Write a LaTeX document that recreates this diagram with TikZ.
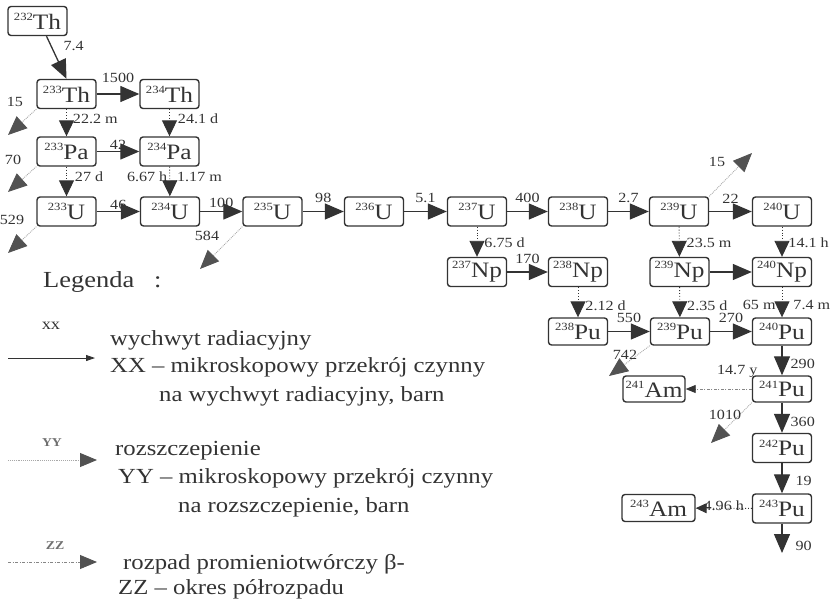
\documentclass[tikz,border=0pt]{standalone}
\usepackage{fontspec}
\setmainfont{Liberation Serif}[FakeStretch=1.15]
\usetikzlibrary{arrows.meta,calc}
\definecolor{ink}{HTML}{333333}
\definecolor{fisc}{HTML}{A8A8A8}
\newcommand{\nuc}[2]{\raisebox{0.4em}{\fontsize{11}{11}\selectfont #1}#2}
\begin{document}
\begin{tikzpicture}[x=1pt,y=-1pt,
  iso/.style={draw=ink, line width=1.4pt, rounded corners=3pt, minimum width=59pt,
    minimum height=29pt, inner sep=0pt, font=\fontsize{22}{22}\selectfont, text=ink},
  capt/.style={draw=ink, line width=1.3pt, -{Triangle[length=19pt,width=16pt]}},
  dec/.style={draw=ink, line width=0.9pt, dotted, -{Triangle[length=16pt,width=15pt]}},
  fis/.style={draw=fisc, line width=0.9pt, densely dotted, -{Triangle[length=19pt,width=16pt,color=ink!85]}},
  lab/.style={font=\fontsize{14}{14}\selectfont, text=ink, inner sep=1pt},
  leg/.style={font=\fontsize{21.5}{24}\selectfont, text=ink, inner sep=0pt, anchor=base west},
]
\useasboundingbox (0,0) rectangle (833,606);

% ---- nodes
\node[iso] (th232) at (37.5,21) {\nuc{232}{Th}};
\node[iso] (th233) at (66.5,94) {\nuc{233}{Th}};
\node[iso] (th234) at (169.5,94) {\nuc{234}{Th}};
\node[iso] (pa233) at (66.5,151.5) {\nuc{233}{Pa}};
\node[iso] (pa234) at (169.5,151.5) {\nuc{234}{Pa}};
\node[iso] (u233) at (66.5,211.5) {\nuc{233}{U}};
\node[iso] (u234) at (170,211.5) {\nuc{234}{U}};
\node[iso] (u235) at (272.5,211.5) {\nuc{235}{U}};
\node[iso] (u236) at (374,211.5) {\nuc{236}{U}};
\node[iso] (u237) at (477,211.5) {\nuc{237}{U}};
\node[iso] (u238) at (578,211.5) {\nuc{238}{U}};
\node[iso] (u239) at (679,211.5) {\nuc{239}{U}};
\node[iso] (u240) at (782,211.5) {\nuc{240}{U}};
\node[iso] (np237) at (477,272) {\nuc{237}{Np}};
\node[iso] (np238) at (578,272) {\nuc{238}{Np}};
\node[iso] (np239) at (679.5,272) {\nuc{239}{Np}};
\node[iso] (np240) at (782,272) {\nuc{240}{Np}};
\node[iso, minimum height=27pt] (pu238) at (578,331.5) {\nuc{238}{Pu}};
\node[iso, minimum height=27pt] (pu239) at (680,331.5) {\nuc{239}{Pu}};
\node[iso, minimum height=27pt] (pu240) at (782,331.5) {\nuc{240}{Pu}};
\node[iso, minimum height=26pt, minimum width=62pt] (am241) at (654,389) {\nuc{241}{Am}};
\node[iso, minimum height=26pt] (pu241) at (782,389) {\nuc{241}{Pu}};
\node[iso] (pu242) at (782,448) {\nuc{242}{Pu}};
\node[iso] (pu243) at (782,508.5) {\nuc{243}{Pu}};
\node[iso, minimum height=27pt, minimum width=73pt] (am243) at (658.5,508) {\nuc{243}{Am}};

% ---- capture (solid)
\draw[capt] ([xshift=9pt]th232.south) -- (th233.north) node[lab, pos=0.22, anchor=west, xshift=11pt] {7.4};
\draw[capt] (th233) -- (th234) node[lab, midway, above=10pt] {1500};
\draw[capt] (pa233) -- (pa234) node[lab, midway, above=0pt] {42};
\draw[capt] (u233) -- (u234) node[lab, midway, above=0pt] {46};
\draw[capt] (u234) -- (u235) node[lab, midway, above=2pt] {100};
\draw[capt] (u235) -- (u236) node[lab, midway, above=7pt] {98};
\draw[capt] (u236) -- (u237) node[lab, midway, above=7pt] {5.1};
\draw[capt] (u237) -- (u238) node[lab, midway, above=7pt] {400};
\draw[capt] (u238) -- (u239) node[lab, midway, above=7pt] {2.7};
\draw[capt] (u239) -- (u240) node[lab, midway, above=6pt] {22};
\draw[capt] (np237) -- (np238) node[lab, midway, above=7pt] {170};
\draw[capt] (np239) -- (np240);
\draw[capt] (pu238) -- (pu239) node[lab, midway, above=7pt] {550};
\draw[capt] (pu239) -- (pu240) node[lab, midway, above=7pt] {270};
\draw[capt] (pu240) -- (pu241) node[lab, pos=0.6, anchor=west, xshift=7pt] {290};
\draw[capt] (pu241) -- (pu242) node[lab, pos=0.63, anchor=west, xshift=7pt] {360};
\draw[capt] (pu242) -- (pu243) node[lab, pos=0.6, anchor=west, xshift=12pt] {19};
\coordinate (out90) at (782,553);
\draw[capt] (pu243) -- (out90) node[lab, pos=0.77, anchor=west, xshift=12pt] {90};

% ---- beta decay (dotted)
\draw[dec] (th233) -- (pa233) node[lab, pos=0.35, anchor=west, xshift=5pt] {22.2 m};
\draw[dec] (th234) -- (pa234) node[lab, pos=0.35, anchor=west, xshift=7pt] {24.1 d};
\draw[dec] (pa233) -- (u233) node[lab, pos=0.35, anchor=west, xshift=7pt] {27 d};
\draw[dec] (pa234) -- (u234) node[lab, pos=0.35, anchor=west, xshift=6pt] {1.17 m}
                             node[lab, pos=0.35, anchor=east, xshift=-1pt] {6.67 h};
\draw[dec] (u237) -- (np237) node[lab, pos=0.53, anchor=west, xshift=6pt] {6.75 d};
\draw[dec] (u239) -- (np239) node[lab, pos=0.53, anchor=west, xshift=6pt] {23.5 m};
\draw[dec] (u240) -- (np240) node[lab, pos=0.53, anchor=west, xshift=5pt] {14.1 h};
\draw[dec] (np238) -- (pu238) node[lab, pos=0.6, anchor=west, xshift=6pt] {2.12 d};
\draw[dec] (np239) -- (pu239) node[lab, pos=0.6, anchor=west, xshift=6pt] {2.35 d};
\draw[dec] (np240) -- (pu240) node[lab, pos=0.6, anchor=west, xshift=10pt] {7.4 m}
                             node[lab, pos=0.6, anchor=east, xshift=-5pt] {65 m};
\draw[draw=fisc!80!black, line width=0.9pt, dash pattern=on 3pt off 1.5pt on 1pt off 1.5pt,
      -{Triangle[length=10pt,width=8pt,color=ink]}] (pu241) -- (am241)
      node[lab, pos=0.22, above=10pt] {14.7 y};
\draw[draw=ink, line width=0.9pt, dotted, -{Triangle[length=11pt,width=10pt]}] (pu243) -- (am243)
      node[lab, midway, above=-4pt] {4.96 h};

% ---- fission (grey dotted)
\coordinate (f1) at (8,135);
\coordinate (f2) at (8,192);
\coordinate (f3) at (8,253);
\coordinate (f4) at (200,269);
\coordinate (f5) at (752,153);
\coordinate (f6) at (609,376);
\coordinate (f7) at (711,443);
\draw[fis] (th233.south west) -- (f1);
\draw[fis] (pa233.south west) -- (f2);
\draw[fis] (u233.south west) -- (f3);
\draw[fis] (u235.south west) -- (f4);
\draw[fis] (u239.north east) -- (f5);
\draw[fis] (pu239.south west) -- (f6);
\draw[fis] (pu241.south west) -- (f7);
\node[lab] (lf1) at (15,102) {15};
\node[lab] (lf2) at (13,160) {70};
\node[lab] (lf3) at (12,220) {529};
\node[lab] (lf4) at (207,236) {584};
\node[lab] (lf5) at (717,162) {15};
\node[lab] (lf6) at (625,355) {742};
\node[lab] (lf7) at (725,415) {1010};

% ---- legend
\node[leg, font=\fontsize{23}{23}\selectfont] (legt) at (43,287) {Legenda\ \ \ :};

\coordinate (lxa) at (8,358); \coordinate (lxb) at (95,358);
\draw[draw=ink, line width=0.8pt, -{Triangle[length=9pt,width=6pt]}] (lxa) -- (lxb);
\node[lab, font=\fontsize{16}{16}\selectfont] (lxx) at (51,326) {xx};
\node[leg] (lx1) at (110,345) {wychwyt radiacyjny};
\node[leg] (lx2) at (110,372) {XX -- mikroskopowy przekrój czynny};
\node[leg] (lx3) at (159,401) {na wychwyt radiacyjny, barn};

\coordinate (lya) at (8,460); \coordinate (lyb) at (97,460);
\draw[fis, -{Triangle[length=17pt,width=14pt,color=ink!85]}] (lya) -- (lyb);
\node[lab, font=\fontsize{12}{12}\selectfont\bfseries, text=ink!70] (lyy) at (52,443) {YY};
\node[leg] (ly1) at (115,455) {rozszczepienie};
\node[leg] (ly2) at (118,483) {YY -- mikroskopowy przekrój czynny};
\node[leg] (ly3) at (178,512) {na rozszczepienie, barn};

\coordinate (lza) at (8,562); \coordinate (lzb) at (97,562);
\draw[draw=fisc!80!black, line width=0.9pt, dash pattern=on 3pt off 1.5pt on 1pt off 1.5pt,
      -{Triangle[length=17pt,width=14pt,color=ink!85]}] (lza) -- (lzb);
\node[lab, font=\fontsize{12}{12}\selectfont\bfseries, text=ink!70] (lzz) at (55,546) {ZZ};
\node[leg] (lz1) at (123,569) {rozpad promieniotwórczy β-};
\node[leg] (lz2) at (118,594) {ZZ -- okres półrozpadu};
\end{tikzpicture}
\end{document}
